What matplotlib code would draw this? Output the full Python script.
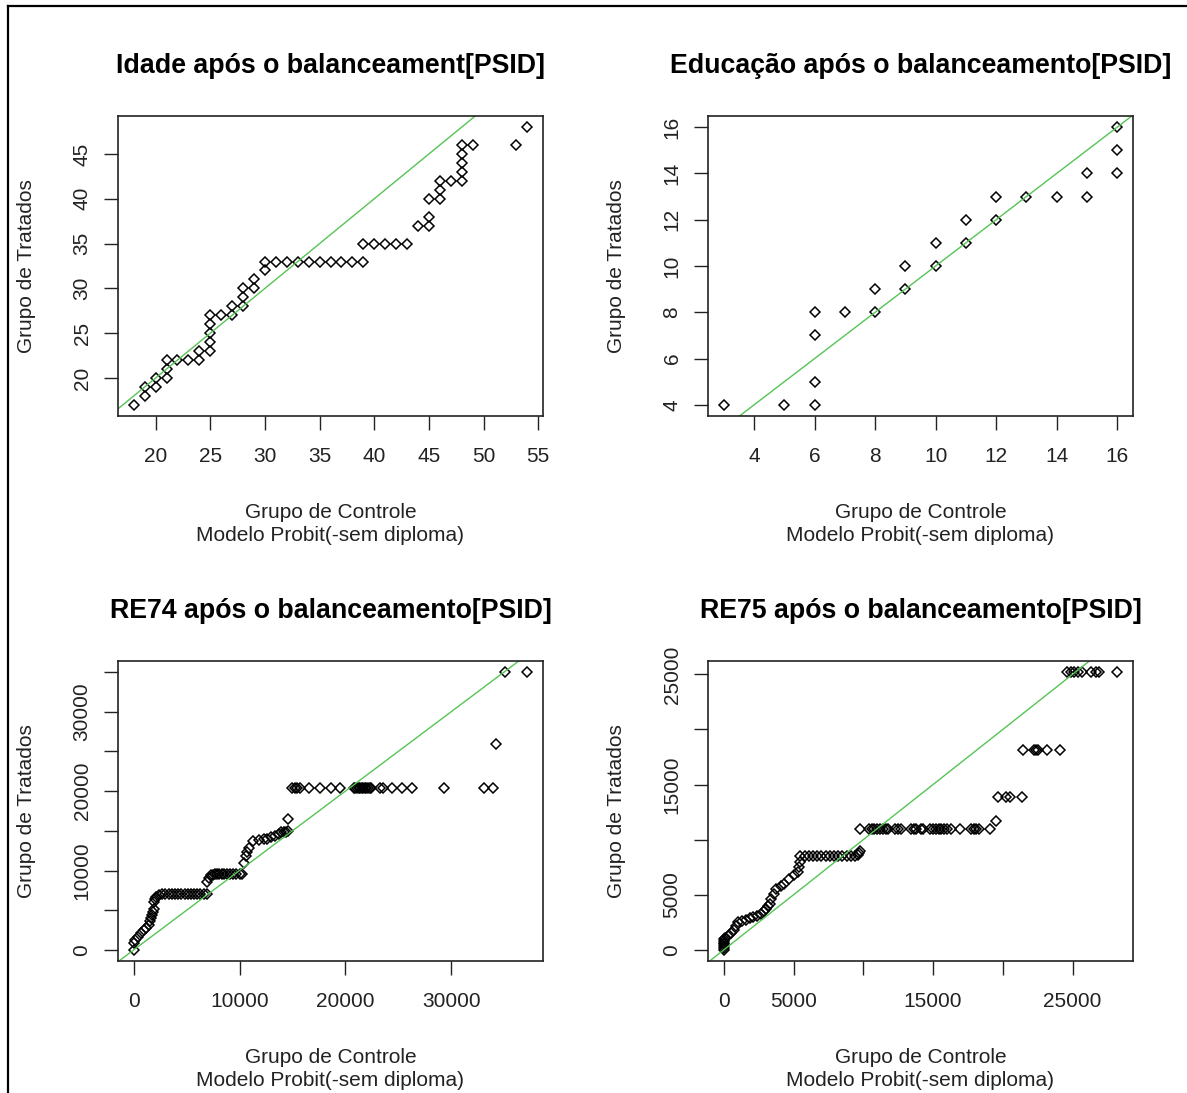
import matplotlib
matplotlib.use("Agg")
import matplotlib.pyplot as plt
from matplotlib.lines import Line2D

plt.rcParams['font.family'] = ['Liberation Sans', 'DejaVu Sans']

# Idade (idade do grupo de controle vs tratados, quantis ordenados)
idade_ctrl = [18, 19, 19, 20, 20, 21, 21, 21, 22, 23, 24, 24, 25, 25, 25, 25, 25, 26, 27, 27,
              28, 28, 28, 29, 29, 30, 30, 31, 32, 33, 34, 35, 36, 37, 38, 39, 39, 40, 41, 42,
              43, 44, 45, 45, 45, 46, 46, 46, 47, 48, 48, 48, 48, 48, 49, 53, 54]
idade_trat = [17, 18, 19, 19, 20, 20, 21, 22, 22, 22, 22, 23, 23, 24, 25, 26, 27, 27, 27, 28,
              28, 29, 30, 30, 31, 32, 33, 33, 33, 33, 33, 33, 33, 33, 33, 33, 35, 35, 35, 35,
              35, 37, 37, 38, 40, 40, 41, 42, 42, 42, 43, 44, 45, 46, 46, 46, 48]

# Educacao
educ_ctrl = [3, 5, 6, 6, 6, 6, 7, 8, 8, 9, 9, 10, 10, 11, 11, 12, 12, 13, 14, 15, 15, 16, 16, 16]
educ_trat = [4, 4, 4, 5, 7, 8, 8, 8, 9, 9, 10, 10, 11, 11, 12, 12, 13, 13, 13, 13, 14, 14, 15, 16]

# RE74
re74_ctrl = [0, 0, 100, 400, 650, 950, 1200, 1400, 1500, 1600, 1750, 1850, 1900, 1950, 2000, 2100,
             2400, 2700, 3000, 3300, 3600, 3900, 4200, 4500, 4800, 5100, 5400, 5700, 6000, 6300,
             6600, 6900, 6900, 7100, 7300, 7500, 7700, 7900, 8100, 8300, 8500, 8800, 9100, 9400,
             9700, 10000, 10200, 10400, 10600, 10700, 10900, 11300, 11800, 12300, 12600, 13000,
             13400, 13700, 13900, 14200, 14400, 14600, 14600, 15000, 15200, 15400, 15700, 16600,
             17600, 18600, 19500, 20800, 20950, 21100, 21250, 21400, 21550, 21700, 21850, 22000,
             22150, 22300, 22450, 23300, 23600, 24400, 25350, 26300, 29300, 33100, 34000, 34200,
             35100, 37200]
re74_trat = [0, 900, 1200, 1600, 2100, 2500, 2800, 3100, 3600, 4000, 4400, 4800, 5200, 6000, 6400, 6700,
             6900, 7000, 7000, 7000, 7000, 7000, 7000, 7000, 7000, 7000, 7000, 7000, 7000, 7000,
             7000, 7000, 8500, 9000, 9400, 9400, 9500, 9500, 9500, 9500, 9500, 9500, 9500, 9500,
             9500, 9500, 9600, 11000, 11800, 12300, 12800, 13700, 13800, 14000, 14000, 14200,
             14400, 14600, 14900, 14900, 14900, 15000, 16500, 20400, 20400, 20400, 20400, 20400,
             20400, 20400, 20400, 20400, 20400, 20400, 20400, 20400, 20400, 20400, 20400, 20400,
             20400, 20400, 20400, 20400, 20400, 20400, 20400, 20400, 20400, 20400, 20400, 26000,
             35000, 35000]

# RE75
re75_ctrl = [0, 0, 0, 0, 0, 0, 50, 100, 300, 500, 700, 900, 1000, 1300, 1600, 1850, 2100, 2400,
             2700, 2900, 3050, 3200, 3300, 3400, 3600, 3750, 4100, 4350, 4700, 5000, 5300, 5400,
             5450, 5500, 5800, 6100, 6400, 6700, 7000, 7300, 7600, 7900, 8200, 8500, 8800, 9100,
             9400, 9600, 9700, 9800, 9800, 10400, 10600, 10800, 11000, 11200, 11400, 11600, 11800,
             12300, 12500, 12700, 13400, 13600, 13800, 14100, 14300, 14800, 15000, 15200, 15400,
             15600, 15800, 16000, 16300, 16900, 17700, 17900, 18100, 18300, 19100, 19500, 19650,
             20200, 20500, 21400, 21450, 22200, 22400, 22500, 23200, 24100, 24600, 24900, 25100,
             25400, 25700, 26300, 26700, 26900, 28200]
re75_trat = [0, 200, 350, 500, 650, 800, 950, 1100, 1300, 1500, 1800, 2200, 2500, 2600, 2700, 2850,
             3000, 3100, 3300, 3500, 3750, 4000, 4200, 4650, 5100, 5550, 5800, 6000, 6450, 6800,
             7050, 7500, 7950, 8500, 8500, 8500, 8500, 8500, 8500, 8500, 8500, 8500, 8500, 8500,
             8500, 8500, 8500, 8600, 8800, 9000, 11000, 11000, 11000, 11000, 11000, 11000, 11000,
             11000, 11000, 11000, 11000, 11000, 11000, 11000, 11000, 11000, 11000, 11000, 11000,
             11000, 11000, 11000, 11000, 11000, 11000, 11000, 11000, 11000, 11000, 11000, 11000,
             11700, 13900, 13900, 13900, 13900, 18100, 18100, 18100, 18100, 18100, 18100, 25200,
             25200, 25200, 25200, 25200, 25200, 25200, 25200, 25200]

titulos = ["Idade após o balanceament[PSID]", "Educação após o balanceamento[PSID]",
           "RE74 após o balanceamento[PSID]", "RE75 após o balanceamento[PSID]"]

W, H = 1187, 1093
fig = plt.figure(figsize=(W / 100, H / 100), dpi=100)

# posicoes dos paineis em pixels (esq, topo, dir, base)
caixas = [(118, 116, 543, 416), (708, 116, 1133, 416),
          (118, 661, 543, 961), (708, 661, 1133, 961)]

paineis = [
    (idade_ctrl, idade_trat, [20, 25, 30, 35, 40, 45, 50, 55], None,
     [20, 25, 30, 35, 40, 45], None),
    (educ_ctrl, educ_trat, [4, 6, 8, 10, 12, 14, 16], None,
     [4, 6, 8, 10, 12, 14, 16], None),
    (re74_ctrl, re74_trat, [0, 10000, 20000, 30000], None,
     [0, 5000, 10000, 15000, 20000, 25000, 30000, 35000],
     ["0", "", "10000", "", "20000", "", "30000", ""]),
    (re75_ctrl, re75_trat, [0, 5000, 10000, 15000, 20000, 25000],
     ["0", "5000", "", "15000", "", "25000"],
     [0, 5000, 10000, 15000, 20000, 25000],
     ["0", "5000", "", "15000", "", "25000"]),
]

for i, (x, y, xt, xtl, yt, ytl) in enumerate(paineis):
    assert len(x) == len(y)
    l, t, r, b = caixas[i]
    ax = fig.add_axes([l / W, 1 - b / H, (r - l) / W, (b - t) / H])
    ax.plot(x, y, 'D', mfc='none', mec='black', ms=5.3, mew=1.1)
    ax.axline((0, 0), slope=1, color='#55c455', lw=1.0)

    ax.set_xticks(xt)
    ax.set_yticks(yt)
    if xtl is not None:
        ax.set_xticklabels(xtl)
    if ytl is not None:
        ax.set_yticklabels(ytl)
    dx = max(x) - min(x)
    dy = max(y) - min(y)
    ax.set_xlim(min(x) - 0.04 * dx, max(x) + 0.04 * dx)
    ax.set_ylim(min(y) - 0.04 * dy, max(y) + 0.04 * dy)

    for s in ax.spines.values():
        s.set_linewidth(1.2)
        s.set_color('#222222')
    ax.tick_params(direction='out', length=10, width=1.0, labelsize=15, colors='#222222')
    ax.tick_params(axis='x', pad=12)
    ax.tick_params(axis='y', labelrotation=90, pad=9)
    for lab in ax.get_yticklabels():
        lab.set_va('center')

    ax.set_title(titulos[i], fontsize=19.3, fontweight='bold', pad=31)
    ax.set_xlabel("Grupo de Controle\nModelo Probit(-sem diploma)", fontsize=15,
                  linespacing=1.3, va='top', color='#222222')
    ax.xaxis.set_label_coords(0.5, -0.29)
    ax.set_ylabel("Grupo de Tratados", fontsize=15, va='center', color='#222222')
    ax.yaxis.set_label_coords(-0.215, 0.5)

# moldura da figura (esquerda e topo)
fig.add_artist(Line2D([7.5 / W, 7.5 / W], [0, 1 - 5.5 / H], color='black', lw=1.6))
fig.add_artist(Line2D([7.5 / W, 1], [1 - 5.5 / H, 1 - 5.5 / H], color='black', lw=1.6))

fig.savefig("out.png", dpi=100)
